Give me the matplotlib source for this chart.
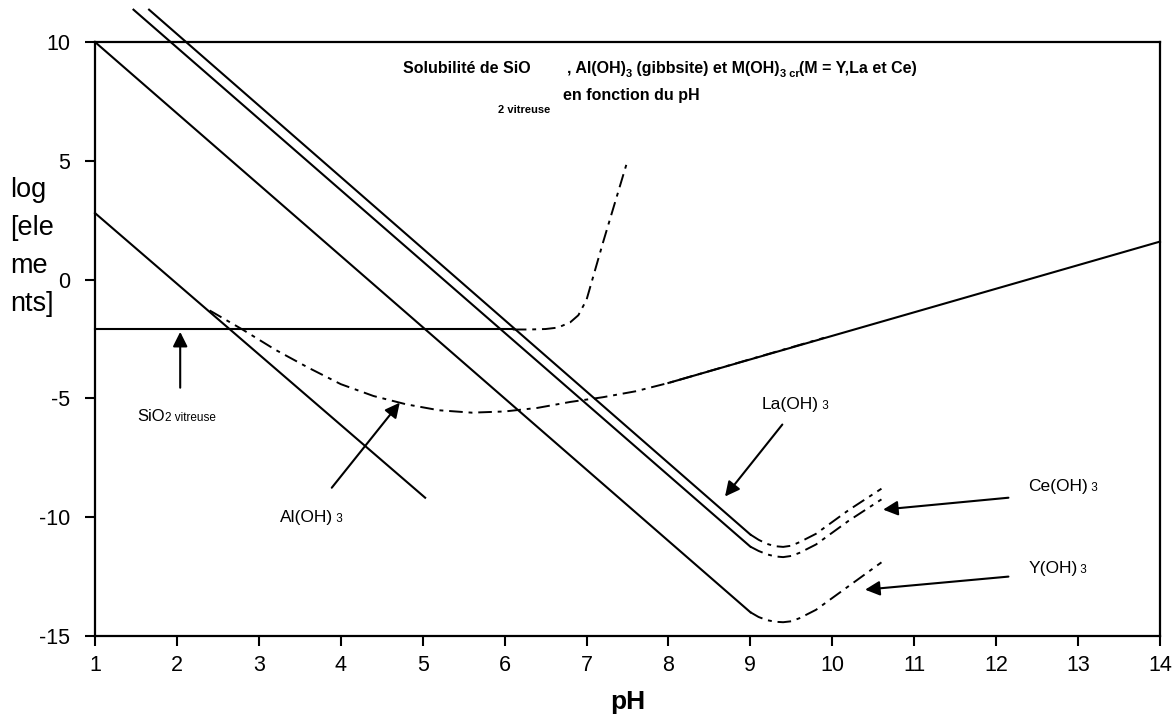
import matplotlib
matplotlib.use('Agg')
import matplotlib.pyplot as plt

plt.rcParams['font.family'] = ['Liberation Sans', 'DejaVu Sans']
plt.rcParams['axes.unicode_minus'] = False

# straight branches (pH, log) : acid side of each hydroxide
la_ph = [1.66, 9.0]
la_log = [11.36, -10.73]
ce_ph = [1.47, 9.0]
ce_log = [11.36, -11.24]
y_ph = [1.0, 9.0]
y_log = [10.0, -14.0]
line_a_ph = [1.0, 5.03]
line_a_log = [2.8, -9.18]

# minima of the M(OH)3 curves
min_ph = [9.0, 9.1, 9.2, 9.3, 9.4, 9.5, 9.6, 9.8, 10.0, 10.2, 10.4, 10.6]
la_min = [-10.73, -10.95, -11.12, -11.22, -11.25, -11.2, -11.05, -10.7, -10.2, -9.7, -9.25, -8.8]
ce_min = [-11.24, -11.42, -11.56, -11.65, -11.68, -11.63, -11.5, -11.15, -10.65, -10.15, -9.7, -9.25]
y_min = [-14.0, -14.2, -14.33, -14.4, -14.42, -14.38, -14.25, -13.9, -13.4, -12.9, -12.4, -11.9]

# SiO2 vitreuse
sio2_ph = [1.0, 6.09]
sio2_log = [-2.1, -2.1]
sio2_curve_ph = [6.1, 6.3, 6.5, 6.65, 6.8, 6.9, 7.0, 7.1, 7.2, 7.3, 7.4, 7.5]
sio2_curve_log = [-2.1, -2.1, -2.08, -2.02, -1.8, -1.5, -0.85, 0.35, 1.55, 2.7, 3.85, 5.0]

# Al(OH)3 gibbsite
al_ph = [2.4, 2.8, 3.2, 3.6, 4.0, 4.4, 4.8, 5.2, 5.6, 6.0, 6.4, 6.8, 7.2, 7.6, 8.0, 8.5, 9.0, 9.5, 9.9]
al_log = [-1.3, -2.1, -2.95, -3.7, -4.4, -4.9, -5.25, -5.5, -5.6, -5.55, -5.4, -5.15, -4.95, -4.7,
          -4.35, -3.85, -3.35, -2.85, -2.45]
al_base_ph = [8.0, 14.0]
al_base_log = [-4.35, 1.6]

W, H = 1176, 728


def fx(px):
    return px / W


def fy(py):
    return 1 - py / H


fig = plt.figure(figsize=(W / 100, H / 100), dpi=100)
ax = fig.add_axes([fx(95), fy(636), fx(1160) - fx(95), fy(42) - fy(636)])

lw = 1.5
dash = (0, (7, 3, 2, 3))
for xs, ys in [(la_ph, la_log), (ce_ph, ce_log), (y_ph, y_log), (line_a_ph, line_a_log),
               (sio2_ph, sio2_log), (al_base_ph, al_base_log)]:
    ax.plot(xs, ys, color='black', lw=lw, clip_on=False)
for xs, ys in [(min_ph, la_min), (min_ph, ce_min), (min_ph, y_min),
               (sio2_curve_ph, sio2_curve_log), (al_ph, al_log)]:
    ax.plot(xs, ys, color='black', lw=1.4, linestyle=dash)

ax.set_xlim(1, 14)
ax.set_ylim(-15, 10)
ax.set_xticks(range(1, 15))
ax.set_yticks([-15, -10, -5, 0, 5, 10])
for s in ax.spines.values():
    s.set_linewidth(1.6)
ax.tick_params(axis='both', direction='out', length=7, width=1.5, labelsize=15.5)
ax.tick_params(axis='y', pad=11)
ax.tick_params(axis='x', pad=7)
ax.set_xlabel('pH', fontsize=19, fontweight='bold', labelpad=10)

fig.text(fx(10), fy(247), 'log\n[ele\nme\nnts]', fontsize=19.5, ha='left', va='center',
         linespacing=1.6)


def after(prev, s, dy=0, **kw):
    return ax.annotate(s, xy=(1, 0), xycoords=prev, xytext=(0, dy), textcoords='offset points',
                       ha='left', va='bottom', annotation_clip=False, **kw)


# title
tkw = dict(fontsize=11.5, fontweight='bold')
skw = dict(fontsize=8, fontweight='bold')
fig.text(fx(403), fy(73), 'Solubilité de SiO', va='baseline', **tkw)
t = fig.text(fx(567), fy(73), ', Al(OH)', va='baseline', **tkw)
t = after(t, '3', dy=-2, **skw)
t = after(t, ' (gibbsite) et M(OH)', dy=2, **tkw)
t = after(t, '3 cr', dy=-2, **skw)
after(t, '(M = Y,La et Ce)', dy=2, **tkw)
fig.text(fx(563), fy(100), 'en fonction du pH', va='baseline', **tkw)
fig.text(fx(498), fy(113), '2 vitreuse', va='baseline', **skw)

# labels with arrows
akw = dict(arrowstyle='-|>', color='black', lw=1.5, mutation_scale=22, shrinkA=0, shrinkB=0)


def label(x, y, main, sub, size=12.5, subsize=8.5):
    t = ax.text(x, y, main, fontsize=size, va='center', ha='left')
    after(t, sub, fontsize=subsize)


ax.annotate('', xy=(2.04, -2.2), xytext=(2.04, -4.55), arrowprops=akw)
label(1.52, -5.77, 'SiO', '2 vitreuse', size=12, subsize=8.5)
ax.annotate('', xy=(4.72, -5.18), xytext=(3.89, -8.76), arrowprops=akw)
label(3.26, -10.0, 'Al(OH)', ' 3')
ax.annotate('', xy=(8.69, -9.13), xytext=(9.39, -6.1), arrowprops=akw)
label(9.14, -5.26, 'La(OH)', ' 3')
ax.annotate('', xy=(10.62, -9.68), xytext=(12.15, -9.18), arrowprops=akw)
label(12.39, -8.71, 'Ce(OH)', ' 3')
ax.annotate('', xy=(10.40, -13.05), xytext=(12.15, -12.5), arrowprops=akw)
label(12.39, -12.16, 'Y(OH)', ' 3')

fig.savefig('out.png', dpi=100)
